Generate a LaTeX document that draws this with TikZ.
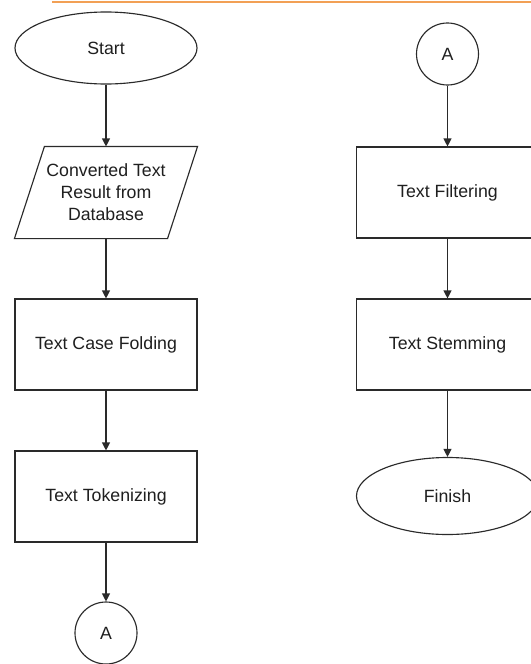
\documentclass[tikz,border=0pt]{standalone}
\usepackage{fontspec}
\setmainfont{Liberation Sans}
\usetikzlibrary{arrows.meta,shapes.geometric}
\definecolor{lineC}{HTML}{2A2A2A}
\definecolor{orangeC}{HTML}{F2A055}
\tikzset{
  base/.style={draw=lineC, line width=0.85pt, text=black!88, align=center, inner sep=0pt,
    font=\fontsize{13.3pt}{16.5pt}\selectfont},
  procbox/.style={base, rectangle, minimum width=136.5pt, minimum height=68.25pt},
  terminal/.style={base, ellipse, minimum width=136.5pt},
  connector/.style={base, circle, minimum size=46.5pt},
  iobox/.style={base, draw=none, rectangle, minimum width=136.5pt, minimum height=68.25pt},
  arr/.style={draw=lineC, line width=0.85pt, -{Triangle[length=6pt,width=6pt]}}
}
\begin{document}
\begin{tikzpicture}[x=0.75pt,y=-0.75pt]
\clip (0,0) rectangle (531,664);
\fill[white] (0,0) rectangle (531,664);
\coordinate (olA) at (52,2);
\coordinate (olB) at (531,2);
\draw[orangeC, line width=0.9pt] (olA) -- (olB);
% left column
\node[terminal, minimum height=54pt] (start) at (106,48) {Start};
\node[iobox] (data) at (106,192.5) {Converted Text\\Result from\\Database};
\draw[base] ([xshift=22.5pt]data.north west) -- (data.north east)
  -- ([xshift=-22.5pt]data.south east) -- (data.south west) -- cycle;
\node[procbox] (fold) at (106,344.5) {Text Case Folding};
\node[procbox] (tok) at (106,496.5) {Text Tokenizing};
\node[connector] (ca1) at (106,633) {A};
% right column
\node[connector] (ca2) at (447.5,54) {A};
\node[procbox] (filt) at (447.5,192.5) {Text Filtering};
\node[procbox] (stem) at (447.5,344.5) {Text Stemming};
\node[terminal, minimum height=57.75pt] (fin) at (447.5,496) {Finish};
% connectors
\draw[arr] (start) -- (data.south |- data.north);
\draw[arr] (data.south) -- (fold);
\draw[arr] (fold) -- (tok);
\draw[arr] (tok) -- (ca1);
\draw[arr] (ca2) -- (filt);
\draw[arr] (filt) -- (stem);
\draw[arr] (stem) -- (fin);
\end{tikzpicture}
\end{document}
